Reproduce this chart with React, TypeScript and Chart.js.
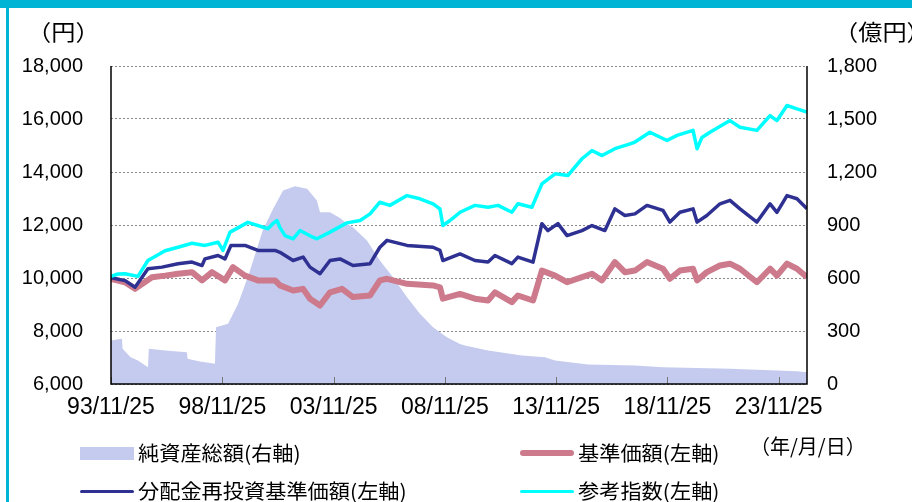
import { useEffect, useRef } from "react";
import { Chart, registerables } from "chart.js";

Chart.register(...registerables);

const TEAL = "#00B4D6";
const AREA_COLOR = "#C5CBEF";
const NAV_COLOR = "#CC7A8C";
const REINV_COLOR = "#2E3192";
const REF_COLOR = "#00FFFF";

const xMin = 1993.9;
const xMax = 2025.17;
const tickYears = [1993.9, 1998.9, 2003.9, 2008.9, 2013.9, 2018.9, 2023.9];
const tickLabels = ["93/11/25", "98/11/25", "03/11/25", "08/11/25", "13/11/25", "18/11/25", "23/11/25"];

// 純資産総額 (億円, right axis)
const assetYears = [
  1993.9, 1994.39, 1994.42, 1994.78, 1995.11, 1995.56, 1995.6, 1996.33, 1997.31, 1997.34, 1997.9,
  1998.57, 1998.62, 1999.16, 1999.61, 2000.1, 2000.72, 2001.18, 2001.63, 2002.17, 2002.71, 2003.15,
  2003.29, 2003.74, 2004.19, 2004.5, 2004.77, 2005.4, 2005.98, 2006.57, 2007.2, 2007.78, 2008.37,
  2008.99, 2009.58, 2009.8, 2010.84, 2012.36, 2013.4, 2013.85, 2015.33, 2017.44, 2018.7, 2021.71,
  2024.72, 2025.17,
];
const assetValues = [
  246, 256, 199, 152, 133, 95, 199, 190, 180, 143, 128,
  114, 321, 341, 454, 624, 870, 990, 1095, 1120, 1105, 1039,
  972, 972, 940, 907, 887, 812, 699, 604, 491, 397, 321,
  265, 227, 218, 190, 161, 152, 133, 110, 105, 95, 86,
  72, 67,
];

// 基準価額 (円, left axis)
const navYears = [
  1993.9, 1994.53, 1994.98, 1995.74, 1996.33, 1996.91, 1997.54, 1997.99, 1998.44, 1999.02, 1999.38,
  1999.92, 2000.5, 2001.27, 2001.49, 2002.08, 2002.53, 2002.84, 2003.29, 2003.74, 2004.28, 2004.77,
  2005.54, 2005.98, 2006.3, 2007.2, 2008.37, 2008.68, 2008.81, 2009.58, 2010.25, 2010.84, 2011.15,
  2011.91, 2012.18, 2012.86, 2013.26, 2013.85, 2014.39, 2015.06, 2015.51, 2015.96, 2016.54, 2016.99,
  2017.44, 2017.98, 2018.7, 2019.01, 2019.46, 2020.05, 2020.23, 2020.67, 2021.26, 2021.71, 2022.16,
  2022.92, 2023.51, 2023.82, 2024.27, 2024.72, 2025.17,
];
const navValues = [
  9970, 9840, 9590, 10030, 10090, 10160, 10220, 9910, 10220, 9910, 10410,
  10090, 9910, 9910, 9720, 9530, 9590, 9220, 8960, 9460, 9590, 9280,
  9340, 9910, 9970, 9780, 9720, 9650, 9220, 9400, 9220, 9150, 9460,
  9090, 9340, 9150, 10280, 10090, 9840, 10030, 10160, 9910, 10600, 10220,
  10280, 10600, 10350, 9970, 10280, 10350, 9910, 10220, 10470, 10540, 10350,
  9840, 10350, 10090, 10540, 10350, 10030,
];

// 分配金再投資基準価額 (円, left axis)
const reinvYears = [
  1993.9, 1994.53, 1994.98, 1995.56, 1996.19, 1996.91, 1997.54, 1997.99, 1998.12, 1998.71, 1999.02,
  1999.29, 1999.92, 2000.5, 2001.27, 2001.49, 2002.08, 2002.53, 2002.84, 2003.29, 2003.74, 2004.19,
  2004.77, 2005.54, 2005.98, 2006.3, 2007.2, 2008.37, 2008.68, 2008.81, 2009.58, 2010.25, 2010.84,
  2011.15, 2011.91, 2012.18, 2012.86, 2013.26, 2013.53, 2013.98, 2014.39, 2015.06, 2015.51, 2016.09,
  2016.54, 2016.99, 2017.44, 2017.98, 2018.7, 2019.01, 2019.46, 2020.05, 2020.23, 2020.67, 2021.26,
  2021.71, 2022.16, 2022.92, 2023.51, 2023.82, 2024.27, 2024.72, 2025.17,
];
const reinvValues = [
  10010, 9900, 9650, 10350, 10410, 10540, 10600, 10470, 10720, 10850, 10720,
  11230, 11230, 11040, 11040, 10970, 10660, 10790, 10410, 10160, 10660, 10720,
  10470, 10540, 11160, 11420, 11230, 11160, 11040, 10660, 10910, 10660, 10600,
  10850, 10540, 10790, 10600, 12050, 11790, 12050, 11600, 11790, 11980, 11790,
  12610, 12360, 12420, 12740, 12550, 12110, 12480, 12610, 12110, 12360, 12800,
  12930, 12610, 12110, 12800, 12480, 13110, 12990, 12610,
];

// 参考指数 (left axis)
const refYears = [
  1993.9, 1994.21, 1994.53, 1995.11, 1995.56, 1996.33, 1996.91, 1997.54, 1998.12, 1998.71, 1998.93,
  1999.25, 2000.05, 2000.95, 2001.18, 2001.36, 2001.49, 2001.72, 2002.08, 2002.39, 2002.97, 2003.15,
  2003.74, 2004.5, 2005.09, 2005.54, 2005.98, 2006.43, 2007.2, 2007.78, 2008.37, 2008.68, 2008.81,
  2009.13, 2009.58, 2010.25, 2010.84, 2011.29, 2011.91, 2012.18, 2012.81, 2013.26, 2013.85, 2014.43,
  2015.06, 2015.51, 2015.96, 2016.54, 2017.22, 2017.44, 2018.11, 2018.88, 2019.33, 2020.05, 2020.23,
  2020.45, 2020.81, 2021.71, 2022.16, 2022.92, 2023.51, 2023.82, 2024.27, 2024.72, 2025.17,
];
const refValues = [
  10060, 10150, 10160, 10060, 10660, 11030, 11160, 11310, 11230, 11350, 11040,
  11730, 12100, 11860, 12060, 12170, 11900, 11600, 11480, 11790, 11540, 11480,
  11730, 12080, 12170, 12420, 12860, 12740, 13110, 12990, 12800, 12610, 11980,
  12170, 12480, 12740, 12670, 12740, 12480, 12800, 12670, 13550, 13930, 13870,
  14500, 14810, 14620, 14880, 15060, 15130, 15500, 15190, 15380, 15570, 14880,
  15300, 15500, 15940, 15690, 15570, 16130, 15940, 16510, 16380, 16260,
];

const legendItems = [
  { label: "純資産総額(右軸)", kind: "area", color: AREA_COLOR, left: 80, top: 447 },
  { label: "基準価額(左軸)", kind: "line", color: NAV_COLOR, thickness: 6, left: 520, top: 453 },
  { label: "分配金再投資基準価額(左軸)", kind: "line", color: REINV_COLOR, thickness: 3, left: 80, top: 491 },
  { label: "参考指数(左軸)", kind: "line", color: REF_COLOR, thickness: 3, left: 520, top: 491 },
];

const pts = (xs: number[], ys: number[]) => xs.map((x, i) => ({ x, y: ys[i] }));

const framePlugin = {
  id: "frame",
  afterDatasetsDraw(chart: any) {
    const { ctx, chartArea, scales } = chart;
    const { left, right, top, bottom } = chartArea;
    ctx.save();
    ctx.strokeStyle = "#777";
    ctx.lineWidth = 1;
    tickYears.forEach((v) => {
      const px = Math.round(scales.x.getPixelForValue(v)) + 0.5;
      ctx.beginPath();
      ctx.moveTo(px, bottom);
      ctx.lineTo(px, bottom - 7);
      ctx.stroke();
    });
    ctx.strokeStyle = "#000";
    ctx.lineWidth = 1.5;
    ctx.beginPath();
    ctx.moveTo(left, top);
    ctx.lineTo(left, bottom);
    ctx.lineTo(right, bottom);
    ctx.lineTo(right, top);
    ctx.stroke();
    ctx.restore();
  },
};

export default function App() {
  const ref = useRef<HTMLCanvasElement>(null);

  useEffect(() => {
    document.body.style.margin = "0";
    const tickFont = { family: "'Liberation Sans', Arial, sans-serif", size: 20 };
    const chart = new Chart(ref.current!, {
      type: "line",
      data: {
        datasets: [
          {
            label: "参考指数(左軸)",
            data: pts(refYears, refValues),
            borderColor: REF_COLOR,
            borderWidth: 3.5,
            pointRadius: 0,
            yAxisID: "y",
            order: 1,
          },
          {
            label: "分配金再投資基準価額(左軸)",
            data: pts(reinvYears, reinvValues),
            borderColor: REINV_COLOR,
            borderWidth: 3.5,
            pointRadius: 0,
            yAxisID: "y",
            order: 2,
          },
          {
            label: "基準価額(左軸)",
            data: pts(navYears, navValues),
            borderColor: NAV_COLOR,
            borderWidth: 6,
            pointRadius: 0,
            yAxisID: "y",
            order: 3,
          },
          {
            label: "純資産総額(右軸)",
            data: pts(assetYears, assetValues),
            borderColor: AREA_COLOR,
            backgroundColor: AREA_COLOR,
            borderWidth: 0,
            pointRadius: 0,
            fill: "origin",
            yAxisID: "y1",
            order: 4,
          },
        ],
      },
      options: {
        responsive: false,
        animation: false,
        events: [],
        layout: { padding: { top: 66, left: 0, right: 0, bottom: 0 } },
        plugins: { legend: { display: false }, tooltip: { enabled: false } },
        elements: { line: { tension: 0, borderJoinStyle: "round" } },
        scales: {
          x: {
            type: "linear",
            min: xMin,
            max: xMax,
            grid: { display: false, drawTicks: false },
            border: { display: false },
            afterBuildTicks: (axis: any) => {
              axis.ticks = tickYears.map((v) => ({ value: v }));
            },
            afterFit: (axis: any) => {
              axis.height = 118;
            },
            ticks: {
              autoSkip: false,
              maxRotation: 0,
              minRotation: 0,
              padding: 10,
              color: "#000",
              font: { family: "'Liberation Sans', Arial, sans-serif", size: 23 },
              callback: (_v: any, i: number) => tickLabels[i],
            },
          },
          y: {
            position: "left",
            min: 6000,
            max: 18000,
            grid: { color: "#8a8a8a", lineWidth: 1, drawTicks: false },
            border: { display: false, dash: [2, 2] },
            afterFit: (axis: any) => {
              axis.width = 111;
            },
            ticks: {
              stepSize: 2000,
              padding: 28,
              color: "#000",
              font: tickFont,
              callback: (v: any) => Number(v).toLocaleString("en-US"),
            },
          },
          y1: {
            position: "right",
            min: 0,
            max: 1800,
            grid: { display: false, drawTicks: false },
            border: { display: false },
            afterFit: (axis: any) => {
              axis.width = 105;
            },
            ticks: {
              stepSize: 300,
              padding: 20,
              color: "#000",
              font: tickFont,
              callback: (v: any) => Number(v).toLocaleString("en-US"),
            },
          },
        },
      },
      plugins: [framePlugin],
    });
    return () => chart.destroy();
  }, []);

  const jp = "'Noto Sans CJK JP', 'Noto Sans', sans-serif";
  const textStyle = (left: number, top: number, sx = 1.06, size = 20): any => ({
    position: "absolute",
    left,
    top,
    fontSize: size,
    lineHeight: `${size}px`,
    fontFamily: jp,
    color: "#000",
    whiteSpace: "nowrap",
    transform: `scaleX(${sx})`,
    transformOrigin: "left center",
  });

  return (
    <div
      style={{
        position: "relative",
        width: 912,
        height: 502,
        overflow: "hidden",
        background: "#fff",
      }}
    >
      <canvas ref={ref} width={912} height={502} style={{ position: "absolute", left: 0, top: 0 }} />
      <div style={{ position: "absolute", left: 0, top: 0, width: 912, height: 8, background: TEAL }} />
      <div style={{ position: "absolute", left: 6, top: 0, width: 3, height: 502, background: TEAL }} />
      <div style={textStyle(27, 19, 1.1, 22)}>（円）</div>
      <div style={textStyle(834, 19, 1.1, 22)}>（億円）</div>
      <div style={textStyle(750, 436, 1)}>（年/月/日）</div>
      {legendItems.map((it) => (
        <div key={it.label}>
          {it.kind === "area" ? (
            <div
              style={{
                position: "absolute",
                left: it.left,
                top: it.top,
                width: 54,
                height: 13,
                background: it.color,
              }}
            />
          ) : (
            <div
              style={{
                position: "absolute",
                left: it.left,
                top: it.top - (it.thickness || 3) / 2,
                width: 54,
                height: it.thickness,
                background: it.color,
                borderRadius: (it.thickness || 3) / 2,
              }}
            />
          )}
          <div style={textStyle(it.left + 58, (it.kind === "area" ? it.top + 6 : it.top) - 10)}>{it.label}</div>
        </div>
      ))}
    </div>
  );
}
